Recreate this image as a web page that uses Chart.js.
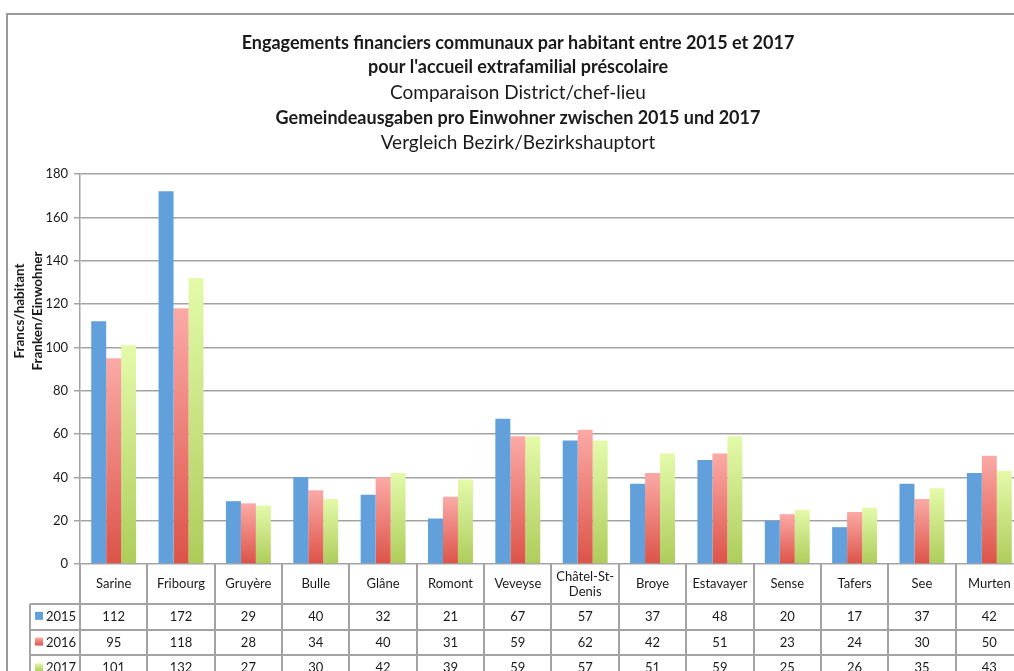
<!DOCTYPE html>
<html>
<head>
<meta charset="utf-8">
<script src="https://cdn.jsdelivr.net/npm/chart.js@4.4.1/dist/chart.umd.min.js"></script>
<style>
  html, body { margin: 0; padding: 0; background: #fff; overflow: hidden; }
  canvas { display: block; }
</style>
</head>
<body>
<canvas id="c" width="1040" height="671"></canvas>
<script>
const categories = ['Sarine','Fribourg','Gruyère','Bulle','Glâne','Romont','Veveyse','Châtel-St-Denis','Broye','Estavayer','Sense','Tafers','See','Murten'];
const years = ['2015','2016','2017'];
const values2015 = [112,172,29,40,32,21,67,57,37,48,20,17,37,42];
const values2016 = [95,118,28,34,40,31,59,62,42,51,23,24,30,50];
const values2017 = [101,132,27,30,42,39,59,57,51,59,25,26,35,43];
const yMin = 0, yMax = 180, yStep = 20;
const titleLines = [
  'Engagements financiers communaux par habitant entre 2015 et 2017',
  "pour l'accueil extrafamilial préscolaire",
  'Comparaison District/chef-lieu',
  'Gemeindeausgaben pro Einwohner zwischen 2015 und 2017',
  'Vergleich Bezirk/Bezirkshauptort'
];
const titleBold = [true, true, false, true, false];
const yTitleLines = ['Francs/habitant', 'Franken/Einwohner'];

const FONT = 'Lato, "Open Sans", sans-serif';
const GRID = '#A3A3A3';
const TEXT = '#1a1a1a';

// colour stops per series: [top, bottom]
const seriesColors = [
  ['#62A0DC', '#62A0DC'],
  ['#FBAAA6', '#DC5348'],
  ['#E4FAAA', '#AECC5B']
];

function barFill(idx) {
  return function(ctx) {
    const chart = ctx.chart;
    if (!chart.chartArea || ctx.raw == null) return seriesColors[idx][1];
    const y = chart.scales.y;
    const top = y.getPixelForValue(ctx.raw);
    const bottom = y.getPixelForValue(0);
    if (!(bottom - top > 0)) return seriesColors[idx][1];
    const g = chart.ctx.createLinearGradient(0, top, 0, bottom);
    g.addColorStop(0, seriesColors[idx][0]);
    g.addColorStop(1, seriesColors[idx][1]);
    return g;
  };
}

function wrap(ctx, text, maxW) {
  if (ctx.measureText(text).width <= maxW) return [text];
  const parts = text.split(/(?<=-)|(?<= )/);
  const lines = [];
  let cur = '';
  for (const p of parts) {
    if (cur && ctx.measureText(cur + p).width > maxW) { lines.push(cur.trim()); cur = p; }
    else cur += p;
  }
  if (cur) lines.push(cur.trim());
  return lines;
}

const decorPlugin = {
  id: 'decor',
  beforeDraw(chart) {
    const c = chart.ctx;
    c.save();
    c.strokeStyle = '#9A9A9A';
    c.lineWidth = 2;
    c.beginPath();
    c.moveTo(7, chart.height + 5);
    c.lineTo(7, 14);
    c.lineTo(chart.width + 5, 14);
    c.stroke();
    c.restore();
  },
  afterDraw(chart) {
    const c = chart.ctx;
    const x = chart.scales.x;
    const area = chart.chartArea;
    c.save();
    // titles
    const titleY = [43, 67, 93, 118, 143];
    const cx = 518;
    c.fillStyle = TEXT;
    c.textAlign = 'center';
    c.textBaseline = 'middle';
    titleLines.forEach((t, i) => {
      c.font = titleBold[i] ? 'bold 18px ' + FONT : '19px ' + FONT;
      c.fillText(t, cx, titleY[i]);
    });
    // y axis title
    c.font = 'bold 13.5px ' + FONT;
    [[20, yTitleLines[0]], [38, yTitleLines[1]]].forEach(([tx, txt]) => {
      c.save();
      c.translate(tx, 311);
      c.rotate(-Math.PI / 2);
      c.fillText(txt, 0, 0);
      c.restore();
    });

    // data table
    const n = categories.length;
    const half = (x.getPixelForValue(1) - x.getPixelForValue(0)) / 2;
    const rowTop = area.bottom;
    const headerBottom = rowTop + 40;
    const rowH = 25.7;
    const legendLeft = 30;
    const rightEdge = chart.width + 5;
    c.strokeStyle = GRID;
    c.lineWidth = 2;
    c.beginPath();
    for (let i = 0; i <= n; i++) {
      const bx = Math.round(x.getPixelForValue(i) - half);
      c.moveTo(bx, rowTop);
      c.lineTo(bx, chart.height + 5);
    }
    c.moveTo(legendLeft, headerBottom);
    c.lineTo(legendLeft, chart.height + 5);
    for (let r = 0; r <= years.length; r++) {
      const ly = Math.round(headerBottom + r * rowH);
      c.moveTo(legendLeft, ly);
      c.lineTo(rightEdge, ly);
    }
    c.stroke();

    c.fillStyle = TEXT;
    c.font = '13px ' + FONT;
    c.textAlign = 'center';
    c.textBaseline = 'middle';
    const cellW = half * 2;
    categories.forEach((cat, i) => {
      const px = x.getPixelForValue(i);
      const lines = wrap(c, cat, cellW - 8);
      const lh = 15;
      const y0 = (rowTop + headerBottom) / 2 - (lines.length - 1) * lh / 2;
      lines.forEach((l, k) => c.fillText(l, px, y0 + k * lh));
    });
    const allValues = [values2015, values2016, values2017];
    allValues.forEach((vals, r) => {
      const cyRow = headerBottom + r * rowH + rowH / 2;
      c.textAlign = 'center';
      c.fillStyle = TEXT;
      vals.forEach((v, i) => c.fillText(String(v), x.getPixelForValue(i), cyRow));
      // legend key
      const g = c.createLinearGradient(0, cyRow - 5, 0, cyRow + 3);
      g.addColorStop(0, seriesColors[r][0]);
      g.addColorStop(1, seriesColors[r][1]);
      c.fillStyle = g;
      c.fillRect(35, cyRow - 5, 8, 8);
      c.fillStyle = TEXT;
      c.textAlign = 'left';
      c.fillText(years[r], 46, cyRow);
    });
    c.restore();
  }
};

new Chart(document.getElementById('c'), {
  type: 'bar',
  data: {
    labels: categories,
    datasets: [
      { label: years[0], data: values2015, backgroundColor: barFill(0) },
      { label: years[1], data: values2016, backgroundColor: barFill(1) },
      { label: years[2], data: values2017, backgroundColor: barFill(2) }
    ]
  },
  options: {
    responsive: false,
    animation: false,
    events: [],
    layout: { padding: { top: 174, bottom: 107, left: 0, right: 17 } },
    datasets: { bar: { categoryPercentage: 0.667, barPercentage: 1.0 } },
    plugins: { legend: { display: false }, title: { display: false }, tooltip: { enabled: false } },
    scales: {
      x: { display: false },
      y: {
        min: yMin, max: yMax,
        ticks: { stepSize: yStep, color: TEXT, font: { family: FONT, size: 13 }, padding: 6 },
        grid: { color: GRID, lineWidth: 1.5, tickLength: 6, drawTicks: true },
        border: { color: GRID, width: 1.5 },
        afterFit(scale) { scale.width = 80; }
      }
    }
  },
  plugins: [decorPlugin]
});
</script>
</body>
</html>
